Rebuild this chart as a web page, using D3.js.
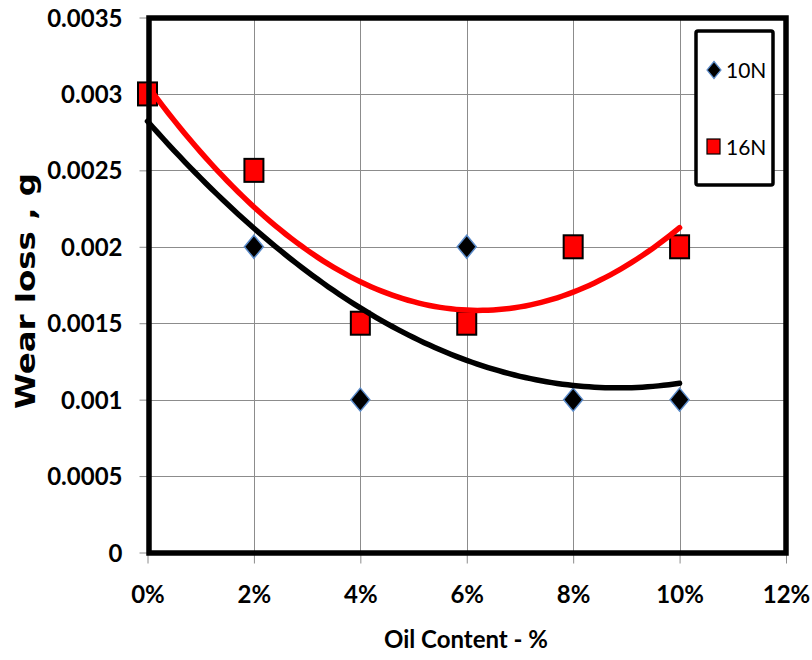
<!DOCTYPE html>
<html>
<head>
<meta charset="utf-8">
<script src="https://cdn.jsdelivr.net/npm/d3@7"></script>
<style>
  html, body { margin: 0; padding: 0; background: #fff; }
  svg { display: block; }
  .tick text { font-family: Lato, "Open Sans", sans-serif; font-weight: 700; font-size: 24px; fill: #000; }
</style>
</head>
<body>
<svg id="chart" width="812" height="660"></svg>
<script>
// Oil content (fraction) and measured wear loss (g) for the two loads
const oilContent = [0, 0.02, 0.04, 0.06, 0.08, 0.10];
const wear10N = [0.003, 0.002, 0.001, 0.002, 0.001, 0.001];
const wear16N = [0.003, 0.0025, 0.0015, 0.0015, 0.002, 0.002];
const seriesNames = ["10N", "16N"];

const xTicks = [0, 0.02, 0.04, 0.06, 0.08, 0.10, 0.12];
const xTickLabels = ["0%", "2%", "4%", "6%", "8%", "10%", "12%"];
const yTicks = [0, 0.0005, 0.001, 0.0015, 0.002, 0.0025, 0.003, 0.0035];
const yTickLabels = ["0", "0.0005", "0.001", "0.0015", "0.002", "0.0025", "0.003", "0.0035"];

const svg = d3.select("#chart");
const plot = { left: 147.5, right: 786, top: 17.5, bottom: 552.5 };

const x = d3.scaleLinear().domain([0, 0.12]).range([plot.left, plot.right]);
const y = d3.scaleLinear().domain([0, 0.0035]).range([plot.bottom, plot.top]);

// Gridlines
const grid = svg.append("g").attr("stroke", "#8c8c8c").attr("stroke-width", 1);
grid.selectAll("line.v").data(xTicks).join("line")
  .attr("x1", d => Math.round(x(d)) + 0.5).attr("x2", d => Math.round(x(d)) + 0.5)
  .attr("y1", plot.top).attr("y2", plot.bottom);
grid.selectAll("line.h").data(yTicks).join("line")
  .attr("y1", d => Math.round(y(d)) + 0.5).attr("y2", d => Math.round(y(d)) + 0.5)
  .attr("x1", plot.left).attr("x2", plot.right);

// Axes
const xAxis = d3.axisBottom(x).tickValues(xTicks)
  .tickFormat((d, i) => xTickLabels[i]).tickSize(11).tickSizeOuter(0).tickPadding(22);
const yAxis = d3.axisLeft(y).tickValues(yTicks)
  .tickFormat((d, i) => yTickLabels[i]).tickSize(8).tickSizeOuter(0).tickPadding(17);

const gx = svg.append("g").attr("transform", `translate(0,${plot.bottom})`).call(xAxis);
const gy = svg.append("g").attr("transform", `translate(${plot.left},0)`).call(yAxis);
[gx, gy].forEach(g => {
  g.select(".domain").remove();
  g.selectAll(".tick line").attr("stroke", "#8c8c8c");
});
gy.selectAll(".tick text").attr("dy", "0.36em");

// Least-squares quadratic trendline
function quadFit(xs, ys) {
  let s = [0, 0, 0, 0, 0], t = [0, 0, 0];
  xs.forEach((xv, i) => {
    let p = 1;
    for (let k = 0; k < 5; k++) { s[k] += p; if (k < 3) t[k] += p * ys[i]; p *= xv; }
  });
  const A = [[s[0], s[1], s[2], t[0]], [s[1], s[2], s[3], t[1]], [s[2], s[3], s[4], t[2]]];
  for (let c = 0; c < 3; c++) {
    for (let r = c + 1; r < 3; r++) {
      const f = A[r][c] / A[c][c];
      for (let k = c; k < 4; k++) A[r][k] -= f * A[c][k];
    }
  }
  const coef = [0, 0, 0];
  for (let r = 2; r >= 0; r--) {
    let v = A[r][3];
    for (let k = r + 1; k < 3; k++) v -= A[r][k] * coef[k];
    coef[r] = v / A[r][r];
  }
  return xv => coef[0] + coef[1] * xv + coef[2] * xv * xv;
}

const diamond = (w, h) => `M0,${-h}L${w},0L0,${h}L${-w},0Z`;

// Markers: 10N diamonds
const pts10 = oilContent.map((d, i) => ({ x: d, y: wear10N[i] }));
const pts16 = oilContent.map((d, i) => ({ x: d, y: wear16N[i] }));

svg.append("g").selectAll("path").data(pts10).join("path")
  .attr("transform", d => `translate(${x(d.x)},${y(d.y)})`)
  .attr("d", diamond(9.5, 11.5))
  .attr("fill", "#000").attr("stroke", "#5b8bc9").attr("stroke-width", 1.5);

// Markers: 16N squares
svg.append("g").selectAll("rect").data(pts16).join("rect")
  .attr("x", d => x(d.x) - 9.5).attr("y", d => y(d.y) - 11.5)
  .attr("width", 19).attr("height", 23)
  .attr("fill", "#ff0000").attr("stroke", "#000").attr("stroke-width", 2);

// Trendlines
const samples = d3.range(0, 101).map(i => i * 0.001);
const line = d3.line().x(d => x(d[0])).y(d => y(d[1]));
const fit10 = quadFit(oilContent, wear10N);
const fit16 = quadFit(oilContent, wear16N);
svg.append("path").attr("d", line(samples.map(s => [s, fit10(s)])))
  .attr("fill", "none").attr("stroke", "#000").attr("stroke-width", 5.5).attr("stroke-linecap", "round");
svg.append("path").attr("d", line(samples.map(s => [s, fit16(s)])))
  .attr("fill", "none").attr("stroke", "#ff0000").attr("stroke-width", 5.5).attr("stroke-linecap", "round");

// Plot area frame
svg.append("rect")
  .attr("x", plot.left + 1.5).attr("y", plot.top + 0.5)
  .attr("width", plot.right - plot.left - 1.5).attr("height", plot.bottom - plot.top)
  .attr("fill", "none").attr("stroke", "#000").attr("stroke-width", 5.5);

// Legend
const legend = svg.append("g");
legend.append("rect").attr("x", 696).attr("y", 31).attr("width", 77).attr("height", 154)
  .attr("rx", 2).attr("fill", "#fff").attr("stroke", "#000").attr("stroke-width", 3.5);
legend.append("path").attr("transform", "translate(714,70)").attr("d", diamond(7, 8.5))
  .attr("fill", "#000").attr("stroke", "#5b8bc9").attr("stroke-width", 1.2);
legend.append("rect").attr("x", 707).attr("y", 139).attr("width", 13).attr("height", 15)
  .attr("fill", "#ff0000").attr("stroke", "#000").attr("stroke-width", 1.2);
legend.selectAll("text").data(seriesNames).join("text")
  .attr("x", 726).attr("y", (d, i) => i === 0 ? 70 : 147).attr("dy", "0.36em")
  .attr("font-family", "Lato, sans-serif").attr("font-size", 21).attr("fill", "#000")
  .text(d => d);

// Axis titles
svg.append("text").attr("x", 466).attr("y", 648)
  .attr("text-anchor", "middle")
  .attr("font-family", "Lato, sans-serif").attr("font-weight", 700).attr("font-size", 24)
  .text("Oil Content - %");
svg.append("text").attr("transform", "translate(26,291) rotate(-90)")
  .attr("text-anchor", "middle").attr("dy", "0.36em")
  .attr("font-family", "'DejaVu Sans', sans-serif").attr("font-weight", 700).attr("font-size", 26)
  .attr("textLength", 236).attr("lengthAdjust", "spacingAndGlyphs")
  .text("Wear loss , g");
</script>
</body>
</html>
